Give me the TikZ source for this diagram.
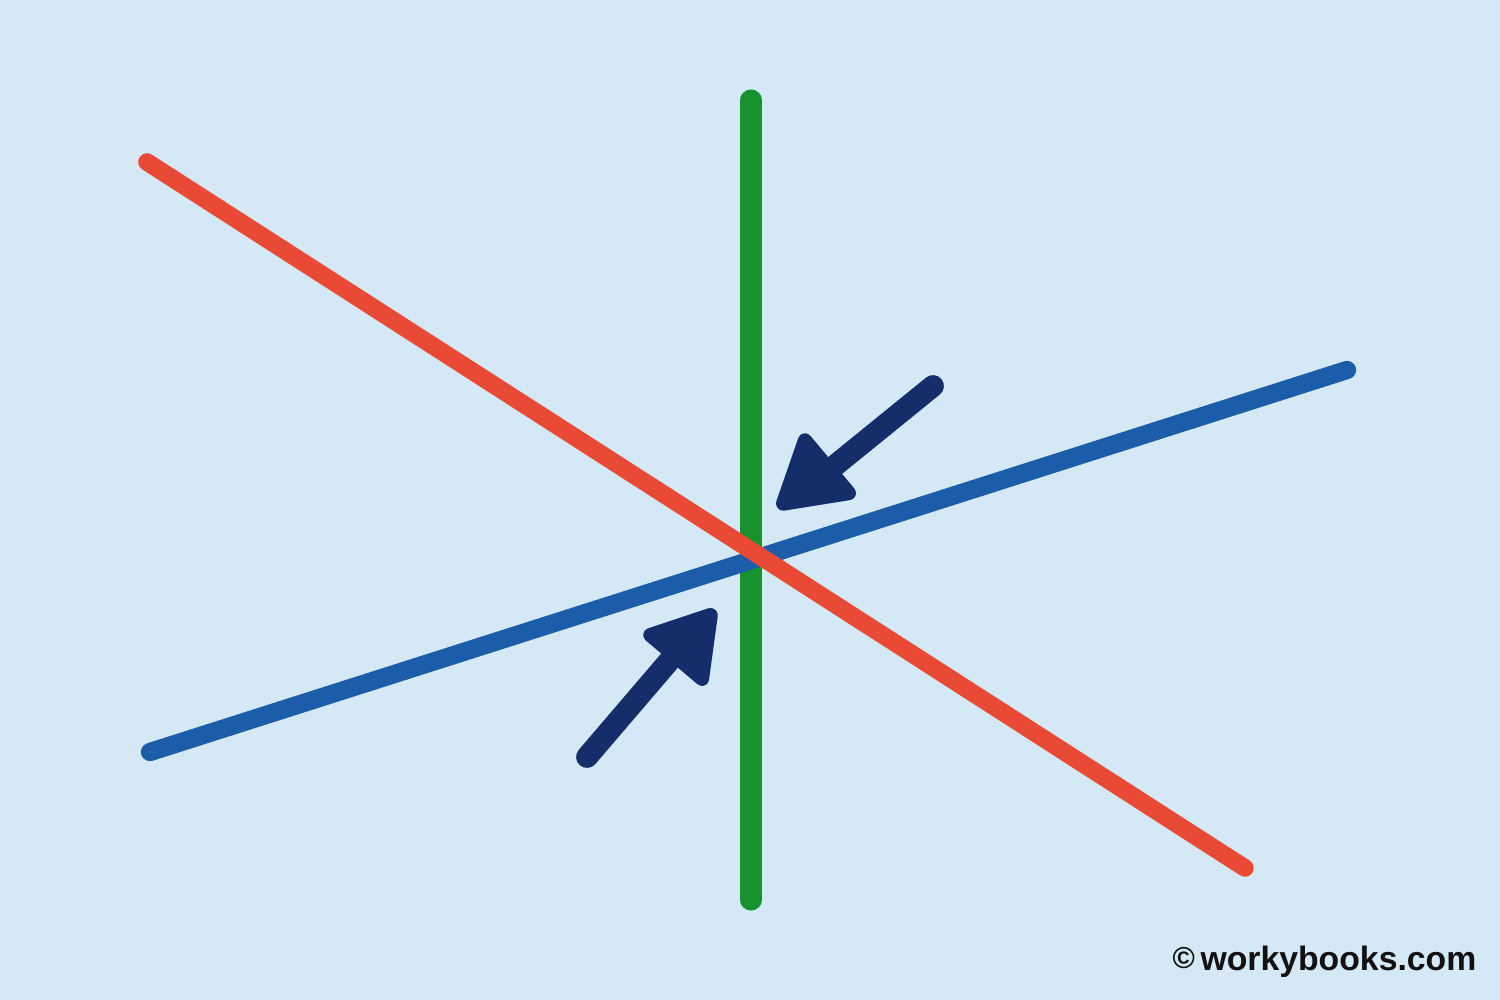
\documentclass[tikz,border=0pt]{standalone}
\usepackage{fontspec}
\setmainfont{Liberation Sans}
\usetikzlibrary{calc}
\definecolor{bgc}{HTML}{D5E8F5}
\definecolor{redl}{HTML}{E84A36}
\definecolor{greenl}{HTML}{17922F}
\definecolor{bluel}{HTML}{1B5DA9}
\definecolor{navy}{HTML}{142D6B}
\definecolor{wmark}{HTML}{111111}
\tikzset{
  linestroke/.style={line cap=round, line width=#1},
  shaft/.style={navy, line cap=round, line width=6.2pt},
  headshape/.style={fill=navy, draw=navy, line width=2.5pt, line join=round, rounded corners=1.5pt},
}
\begin{document}
\begin{tikzpicture}[x=0.01cm, y=-0.01cm]
\fill[bgc] (0,0) rectangle (1500,1000);
\useasboundingbox (0,0) rectangle (1500,1000);
% line end points
\coordinate (g1) at (751,100);
\coordinate (g2) at (751,900);
\coordinate (b1) at (150,752);
\coordinate (b2) at (1347,370);
\coordinate (r1) at (147,162);
\coordinate (r2) at (1245,868);
\draw[greenl, linestroke=6.0pt] (g1) -- (g2);
\draw[bluel, linestroke=5.2pt] (b1) -- (b2);
\draw[redl, linestroke=5.0pt] (r1) -- (r2);
% upper arrow
\coordinate (a1s) at (933,386);
\coordinate (a1m) at (832,468);
\coordinate (a1t) at (779,507);
\coordinate (a1c1) at (804,435);
\coordinate (a1c2) at (854,495);
\draw[shaft] (a1s) -- (a1m);
\filldraw[headshape] (a1t) -- (a1c1) -- (a1c2) -- cycle;
% lower arrow
\coordinate (a2s) at (587,757);
\coordinate (a2m) at (670,660);
\coordinate (a2t) at (714,611);
\coordinate (a2c1) at (645,634);
\coordinate (a2c2) at (704,684);
\draw[shaft] (a2s) -- (a2m);
\filldraw[headshape] (a2t) -- (a2c1) -- (a2c2) -- cycle;
% watermark
\node[anchor=base east, inner sep=0pt, text=wmark, font=\bfseries\fontsize{9.6pt}{11pt}\selectfont] (wm) at (1477,970) {\raisebox{0.3pt}{\fontsize{8.6pt}{10pt}\selectfont ©}\,workybooks.com};
\end{tikzpicture}
\end{document}
